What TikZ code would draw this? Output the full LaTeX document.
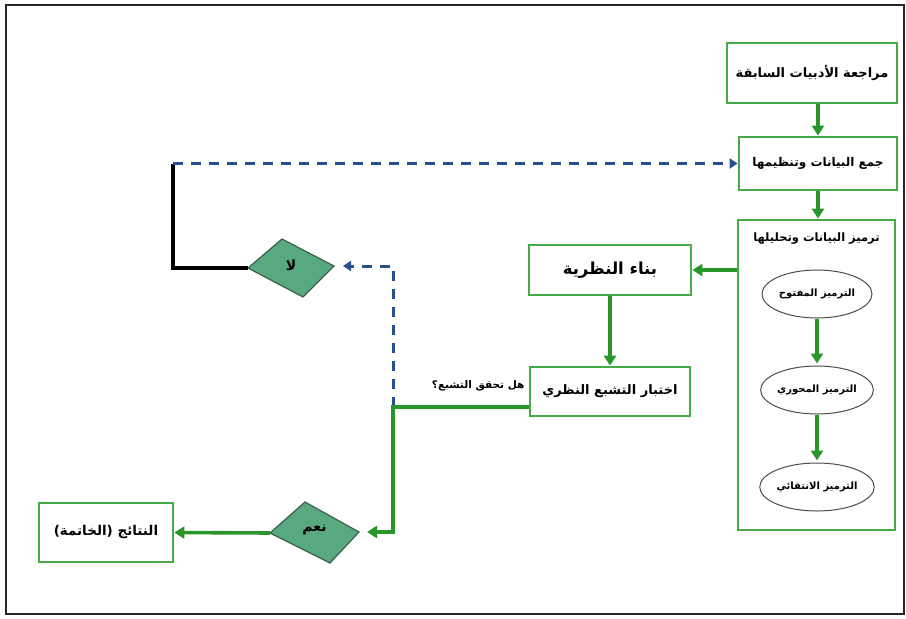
\documentclass[tikz,border=0pt]{standalone}
\usepackage{fontspec}
\newfontfamily\arfont[Script=Arabic]{DejaVu Sans}
\TeXXeTstate=1
\usetikzlibrary{arrows.meta,shapes.geometric}
\definecolor{boxgreen}{RGB}{70,170,70}
\definecolor{arrgreen}{RGB}{40,150,40}
\definecolor{dfill}{RGB}{88,168,128}
\definecolor{dline}{RGB}{60,95,75}
\definecolor{dblue}{RGB}{40,80,145}
\newcommand{\AR}[1]{{\arfont\bfseries\beginR #1\endR}}
\begin{document}
\begin{tikzpicture}[x=1pt,y=-1pt,
  gbox/.style={draw=boxgreen,line width=2.8pt,fill=white,inner sep=0pt,font=\fontsize{12}{14}\selectfont},
  oval/.style={ellipse,draw=black!70,line width=1pt,minimum width=110pt,minimum height=48pt,inner sep=0pt,font=\fontsize{10}{12}\selectfont},
  garr/.style={draw=arrgreen,line width=3.6pt,-{Triangle[length=10pt,width=12pt]}},
  barr/.style={draw=dblue,line width=3pt,dash pattern=on 10pt off 8pt,-{Triangle[length=8pt,width=10pt]}},
  kline/.style={draw=black,line width=3.2pt},
  dia/.style={fill=dfill,draw=dline,line width=1.2pt}]
\useasboundingbox (0,0) rectangle (906,619);
\draw[line width=2.4pt,black!85] (6,5) rectangle (904,614);

% right column
\node[gbox,minimum width=170pt,minimum height=60pt,font=\fontsize{13}{15}\selectfont] (lit) at (812,73) {\AR{مراجعة الأدبيات السابقة}};
\node[gbox,minimum width=158pt,minimum height=53pt] (coll) at (818,163.5) {\AR{جمع البيانات وتنظيمها}};
\node[gbox,minimum width=157pt,minimum height=310pt] (code) at (816.5,375) {};
\node[font=\fontsize{11.5}{13}\selectfont] (codet) at (816.5,239) {\AR{ترميز البيانات وتحليلها}};
\node[oval] (open) at (817,294) {\AR{الترميز المفتوح}};
\node[oval] (axial) at (817,390) {\AR{الترميز المحوري}};
\node[oval] (sel) at (817,487) {\AR{الترميز الانتقائي}};

% middle
\node[gbox,minimum width=162pt,minimum height=50pt,font=\fontsize{16.5}{18}\selectfont] (theory) at (610,270) {\AR{بناء النظرية}};
\node[gbox,minimum width=160pt,minimum height=49pt,font=\fontsize{13}{15}\selectfont] (test) at (610,391.5) {\AR{اختبار التشبع النظري}};
\node[anchor=east,font=\fontsize{10.5}{12}\selectfont] (q) at (528,386) {\AR{هل تحقق التشبع؟}};

% results
\node[gbox,minimum width=134pt,minimum height=59pt,font=\fontsize{13.5}{15}\selectfont] (res) at (106,532.5) {\AR{النتائج (الخاتمة)}};

% diamond "no"
\coordinate (noL) at (248,268);
\coordinate (noT) at (282,239);
\coordinate (noR) at (334,266);
\coordinate (noB) at (303,297);
\filldraw[dia] (noL) -- (noT) -- (noR) -- (noB) -- cycle;
\node[font=\fontsize{14}{16}\selectfont] (no) at (291,265) {\AR{لا}};

% diamond "yes"
\coordinate (yesL) at (270,533);
\coordinate (yesT) at (305,502);
\coordinate (yesR) at (359,532);
\coordinate (yesB) at (330,563);
\filldraw[dia] (yesL) -- (yesT) -- (yesR) -- (yesB) -- cycle;
\node[font=\fontsize{14}{16}\selectfont] (yes) at (314.5,530) {\AR{نعم}};

% connectors
\draw[garr] (lit.south -| coll.north) -- (coll.north);
\draw[garr] (coll.south) -- (code.north -| coll.south);
\draw[garr] (open.south) -- ([yshift=2pt]axial.north);
\draw[garr] (axial.south) -- ([yshift=2pt]sel.north);
\draw[garr] (code.west |- theory.east) -- (theory.east);
\draw[garr] (theory.south) -- (test.north);

\coordinate (j) at (393,407);
\coordinate (k) at (173,163.5);
\draw[barr] (j) |- ([xshift=9pt]noR);
\draw[garr] ([yshift=-15.5pt]test.west) -- (j) |- ([xshift=8pt]yesR);
\draw[garr] (yesL) -- (res.east);
\draw[kline] (noL) -| (k);
\draw[barr] (k) -- (coll.west);
\end{tikzpicture}
\end{document}
